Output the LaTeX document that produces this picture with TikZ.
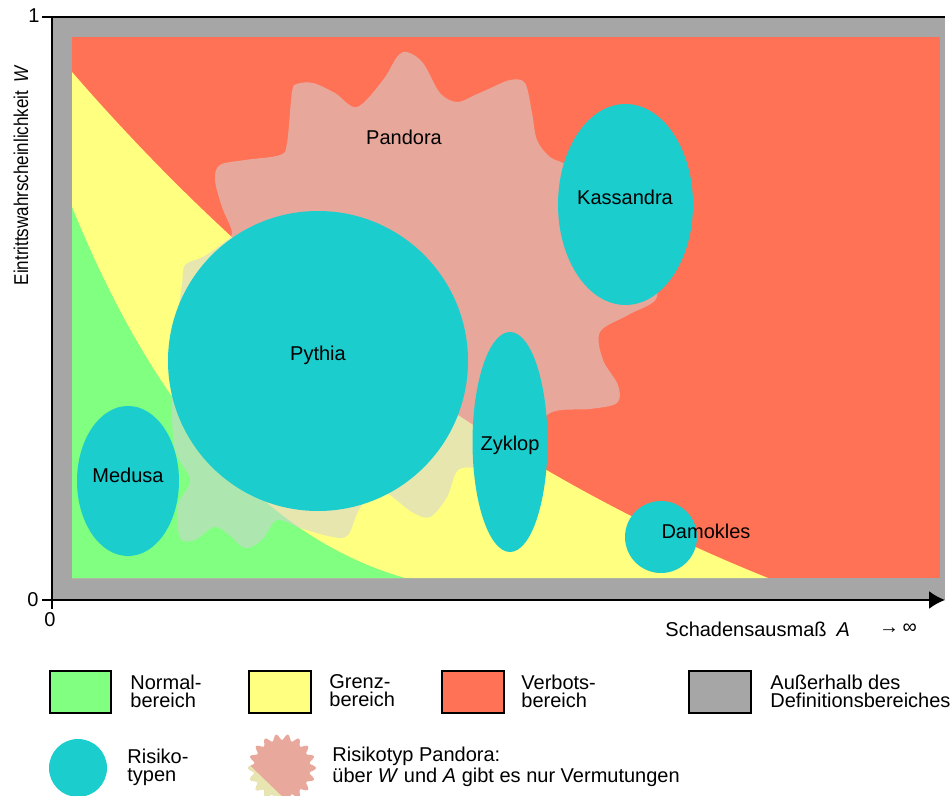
\documentclass[tikz,border=0pt]{standalone}
\usepackage{fontspec}
\setmainfont{Liberation Sans}
\usepackage{tikz}
\usetikzlibrary{arrows.meta, positioning}
\usepackage{xcolor}

\definecolor{normalgruen}{RGB}{128,255,128}
\definecolor{grenzgelb}{RGB}{255,255,128}
\definecolor{verbotsrot}{RGB}{255,114,85}
\definecolor{randgrau}{RGB}{166,166,166}
\definecolor{risikotuerkis}{RGB}{27,205,205}
\definecolor{pandoragrau}{RGB}{213,211,214}
\definecolor{pandorarot}{RGB}{232,169,156}
\definecolor{pandoragelb}{RGB}{232,230,176}
\definecolor{pandoragruen}{RGB}{176,231,176}

\tikzset{
  risiko/.style={fill=risikotuerkis},
  pandora/.style={fill=pandoragrau, fill opacity=0.55},
  achse/.style={line width=0.9pt},
  legfeld/.style={draw=black, line width=1.1pt},
  legtext/.style={anchor=west, align=left, inner sep=0pt, font=\fontsize{10}{9}\selectfont},
  beschrift/.style={inner sep=0pt, font=\fontsize{10}{12}\selectfont},
}

\begin{document}
\begin{tikzpicture}[x=0.5pt, y=-0.5pt]
    \useasboundingbox (0,0) rectangle (952,796);

    % Bereiche
    \fill[randgrau] (52,17) rectangle (945,600);
    \fill[verbotsrot] (72,37) rectangle (940,578);
    \fill[grenzgelb] (72,578) -- (72,72) .. controls (274,305) and (506,473) .. (768,578) -- cycle;
    \fill[normalgruen] (72,578) -- (72,207) .. controls (157,416) and (268,539) .. (405,578) -- cycle;

    % Pandora (ueber W und A nur Vermutungen)
    \fill[pandora] plot[smooth cycle, tension=0.55] coordinates {
        (407,52) (423,63) (440,93) (457,102) (475,95) (493,87) (510,80) (525,83)
        (532,113) (537,140) (550,157) (570,168) (610,210) (645,260) (657,297)
        (628,315) (600,332) (603,360) (618,385) (617,403) (590,409) (550,413)
        (520,445) (480,466) (458,470) (447,497) (430,517) (412,512) (380,490)
        (360,508) (348,535) (333,537) (300,528) (277,520) (262,540) (245,548)
        (228,534) (214,527) (195,540) (180,538) (178,505) (190,480) (175,450)
        (172,400) (176,330) (182,285) (185,265) (203,257) (222,244) (232,233)
        (222,207) (215,180) (220,165) (245,160) (280,155) (287,143) (292,92)
        (297,84) (313,83) (335,93) (357,107) (383,80) (397,57)};

    % Risikotypen
    \fill[risiko] (318,361) circle (150);
    \fill[risiko] (625.5,204.5) ellipse [x radius=67.5, y radius=100.5];
    \fill[risiko] (510,442) ellipse [x radius=37.5, y radius=110];
    \fill[risiko] (128,481) ellipse [x radius=51, y radius=75];
    \fill[risiko] (661,537) circle (36);

    \node[beschrift] (pandora-l) at (404,137) {Pandora};
    \node[beschrift] (pythia-l) at (318,355) {Pythia};
    \node[beschrift] (kassandra-l) at (625,197) {Kassandra};
    \node[beschrift] (zyklop-l) at (510,445) {Zyklop};
    \node[beschrift] (medusa-l) at (128,475) {Medusa};
    \node[beschrift] (damokles-l) at (706,531) {Damokles};

    % Achsen
    \coordinate (ursprung) at (52,600);
    \coordinate (wmax) at (52,17);
    \coordinate (aende) at (945,600);
    \coordinate (rechtsoben) at (945,17);
    \draw[achse] (ursprung) -- (wmax);
    \draw[achse, -{Latex[length=8pt, width=9pt]}] (ursprung) -- (aende);
    \draw[line width=0.6pt] (wmax) -- (rechtsoben);
    \draw[achse] (ursprung) -- ++(-10,0);
    \draw[achse] (ursprung) -- ++(0,9);
    \draw[achse] (wmax) -- ++(-10,0);
    \node[beschrift] (eins) at (34,16) {1};
    \node[beschrift] (null-w) at (33,600) {0};
    \node[beschrift] (null-a) at (50,620) {0};
    \node[beschrift, rotate=90] (w-achse) at (21,175) {\scalebox{0.85}[1]{Eintrittswahrscheinlichkeit\enspace\textit{W}}};
    \node[beschrift, anchor=west] (a-achse) at (665,629) {Schadensausmaß\enspace\textit{A}};
    \node[beschrift] (a-unendl) at (898,629) {→\,∞};

    % Legende
    \draw[legfeld, fill=normalgruen] (50,671) rectangle (111,713);
    \draw[legfeld, fill=grenzgelb] (249,671) rectangle (311,713);
    \draw[legfeld, fill=verbotsrot] (442,671) rectangle (504,713);
    \draw[legfeld, fill=randgrau] (689,671) rectangle (751,713);
    \node[legtext] (leg-normal) at (130,691) {Normal-\\bereich};
    \node[legtext] (leg-grenz) at (329,691) {Grenz-\\bereich};
    \node[legtext] (leg-verbot) at (521,691) {Verbots-\\bereich};
    \node[legtext] (leg-ausser) at (770,691) {Außerhalb des\\Definitionsbereiches};

    \fill[risiko] (78,768) circle (29);
    \node[legtext] (leg-risiko) at (127,767) {Risiko-\\typen};

    \begin{scope}[shift={(282,768)}]
        \clip plot[domain=0:360, samples=145, smooth] ({\x}:{31+3*cos(18*\x)});
        \fill[pandorarot] (-40,-40) rectangle (40,40);
        \fill[pandoragelb] (-45,-15) -- (12,40) -- (-45,40) -- cycle;
        \fill[pandoragruen] (-45,8) -- (-8,40) -- (-45,40) -- cycle;
    \end{scope}
    \node[legtext] (leg-pandora) at (332,767) {Risikotyp Pandora:\\über \textit{W} und \textit{A} gibt es nur Vermutungen};
\end{tikzpicture}
\end{document}
